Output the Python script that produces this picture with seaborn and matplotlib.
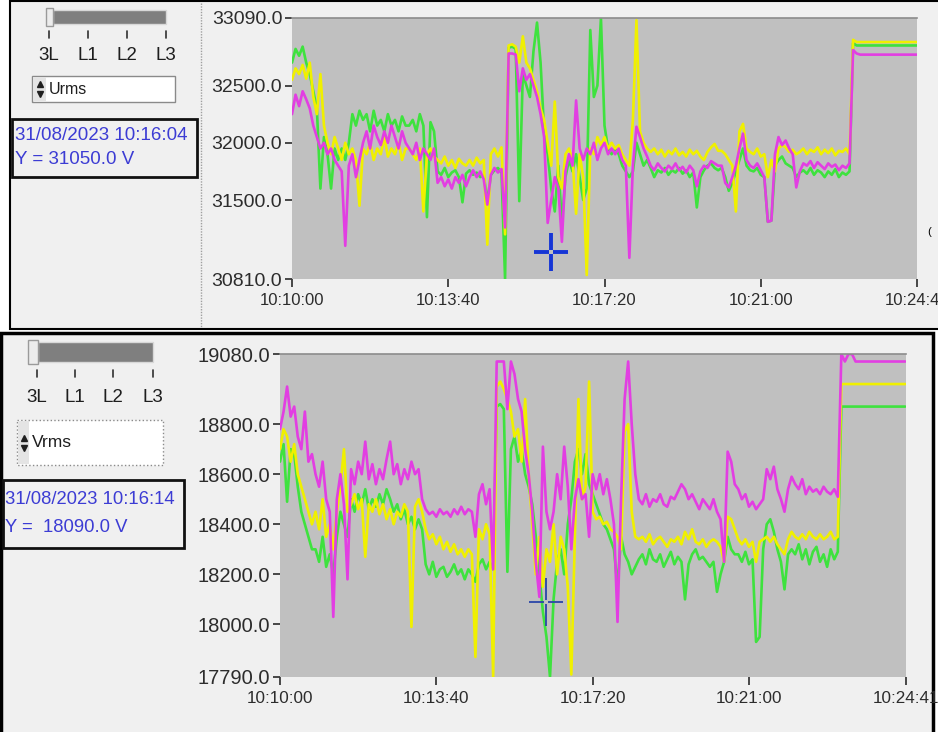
import numpy as np
import pandas as pd
import matplotlib
matplotlib.use("Agg")
import matplotlib.pyplot as plt
from matplotlib.patches import Rectangle
import seaborn as sns

# ---------------- data (5 s samples from 10:10:00) ----------------
T = np.arange(0, 885, 5)

TOP_G = [
    32700, 32820, 32760, 32840, 32700, 32600, 32450, 32300, 31600, 32050,
    31900, 31600, 31950, 31850, 31950, 31850, 32000, 32250, 32150, 32280,
    32200, 32250, 32100, 32280, 32150, 32200, 32100, 32250, 32150, 32200,
    32100, 32230, 32150, 32150, 32200, 32100, 32250, 32150, 31350, 32180,
    32100, 31750, 31720, 31780, 31700, 31740, 31760, 31700, 31480, 31730,
    31760, 31720, 31740, 31700, 31720, 31480, 31720, 31760, 31780, 31740,
    30810, 32830, 32840, 32820, 31490, 32600, 32500, 32400, 32800, 33050,
    32700, 32100, 31900, 31600, 31400, 31800, 31300, 31700, 31850, 31750,
    31900, 31700, 31500, 31600, 32985, 32400, 32500, 33090, 32150, 31950,
    31900, 31950, 31900, 31800, 31750, 31700, 31750, 32000, 31900, 31800,
    31850, 31780, 31700, 31760, 31740, 31780, 31720, 31760, 31740, 31780,
    31730, 31760, 31700, 31740, 31435, 31700, 31760, 31800, 31820, 31780,
    31760, 31780, 31700, 31580, 31650, 31750, 31850, 31950, 31800, 31760,
    31750, 31780, 31720, 31700, 31310, 31320, 31800, 31850, 31880, 31820,
    31800, 31780, 31700, 31740, 31760, 31730, 31780, 31720, 31760, 31740,
    31700, 31750, 31720, 31770, 31700, 31740, 31720, 31750, 32870, 32850,
    32850, 32850, 32850, 32850, 32850, 32850, 32850, 32850, 32850, 32850,
    32850, 32850, 32850, 32850, 32850, 32850, 32850,
]
TOP_Y = [
    32550, 32650, 32600, 32680, 32560, 32700, 32400, 32250, 32600, 32150,
    32000, 31900, 32050, 31950, 31850, 32000, 31900, 31950, 31850, 31450,
    31950, 31900, 32000, 31850, 31950, 31900, 32050, 31880, 31950, 31900,
    32000, 31850, 31950, 31950, 31900, 31850, 31950, 31400, 31900, 31950,
    31880, 31850, 31820, 31880, 31800, 31850, 31780, 31860, 31820, 31800,
    31850, 31800, 31870, 31820, 31850, 31110, 31900, 31950, 31880, 31960,
    31200, 32850, 32860, 32840, 32700, 32930, 32700, 32650, 32550, 32450,
    32300, 32200, 32000, 31800, 32360, 31700, 31600, 31900, 31950, 31850,
    31380, 31900, 31700, 30845, 31950, 31900, 32050, 31980, 32050, 31950,
    32000, 31950, 31980, 31900, 31850, 31800, 32200, 33070, 32100, 32000,
    31950, 31920, 31950, 31900, 31940, 31880, 31930, 31900, 31950, 31890,
    31920, 31880, 31940, 31900, 31930, 31880, 31850, 31920, 31960, 31990,
    31930, 31930, 31900, 31850, 31800, 31400, 32100, 32165, 31950, 31920,
    31900, 31950, 31880, 31900, 31700, 31850, 31750, 31950, 31980, 31960,
    31920, 31940, 31900, 31920, 31950, 31900, 31940, 31920, 31960, 31900,
    31940, 31910, 31950, 31890, 31930, 31920, 31950, 31900, 32900, 32880,
    32880, 32880, 32880, 32880, 32880, 32880, 32880, 32880, 32880, 32880,
    32880, 32880, 32880, 32880, 32880, 32880, 32880,
]
TOP_M = [
    32250, 32420, 32320, 32450, 32380, 32300, 32150, 32050, 31950, 32000,
    31900, 31950, 31850, 31800, 31750, 31100, 31800, 31900, 31700, 31850,
    32000, 32100, 31950, 32150, 32050, 31980, 32100, 32000, 32150, 32050,
    31950, 32100, 32000, 31950, 31900, 32000, 31850, 31950, 31900, 31850,
    31950, 31650, 31700, 31620, 31680, 31600, 31700, 31650, 31720, 31620,
    31700, 31760, 31700, 31750, 31680, 31460, 31720, 31780, 31740, 31770,
    31260, 32780, 32780, 32770, 32450, 32650, 32550, 32600, 32500, 32400,
    32250, 32050, 31300, 31500, 31700, 31600, 31135, 31750, 31900, 31800,
    32370, 31950, 31850, 31950, 31900, 32000, 31850, 31950, 32000, 31900,
    31950, 31900, 31950, 31850, 31800, 30995, 31800, 32140, 32050, 31950,
    31880, 31800, 31760, 31820, 31780, 31750, 31800, 31770, 31820, 31760,
    31790, 31740, 31800, 31760, 31620, 31750, 31800, 31780, 31840, 31820,
    31800, 31800, 31650, 31610, 31700, 31800, 31950, 32080, 31850, 31800,
    31780, 31820, 31760, 31700, 31310, 31320, 31900, 32050, 31980, 32020,
    31950, 31900, 31610, 31750, 31820, 31800, 31840, 31780, 31830, 31800,
    31770, 31820, 31790, 31810, 31760, 31800, 31780, 31820, 32810, 32780,
    32770, 32770, 32770, 32770, 32770, 32770, 32770, 32770, 32770, 32770,
    32770, 32770, 32770, 32770, 32770, 32770, 32770,
]

BOT_G = [
    18650, 18720, 18490, 18700, 18680, 18550, 18450, 18400, 18350, 18300,
    18300, 18250, 18350, 18230, 18280, 18200, 18350, 18450, 18400, 18350,
    18500, 18450, 18520, 18480, 18540, 18460, 18500, 18470, 18520, 18480,
    18540, 18500, 18450, 18480, 18420, 18460, 18400, 18430, 18380, 18420,
    18380, 18240, 18200, 18250, 18190, 18220, 18230, 18190, 18210, 18240,
    18200, 18220, 18180, 18220, 18200, 18170, 18240, 18260, 18220, 18250,
    18220, 18870, 18880, 18860, 18210, 18700, 18750, 18650, 18700, 18600,
    18550, 18480, 18350, 18200, 18050, 17950, 17790, 18100, 18250, 18300,
    18200, 18400, 18500, 18650, 18700, 18600, 18680, 18560, 18520, 18480,
    18440, 18400, 18380, 18340, 18300, 18150, 18350, 18280, 18250, 18200,
    18230, 18260, 18280, 18240, 18300, 18260, 18250, 18280, 18230, 18260,
    18290, 18240, 18270, 18250, 18100, 18240, 18280, 18300, 18260, 18270,
    18250, 18230, 18250, 18130, 18200, 18250, 18350, 18300, 18280, 18280,
    18250, 18290, 18240, 18260, 17930, 17950, 18300, 18400, 18420, 18370,
    18300, 18250, 18140, 18280, 18300, 18280, 18320, 18260, 18300, 18240,
    18290, 18310, 18250, 18280, 18230, 18300, 18260, 18290, 18870, 18870,
    18870, 18870, 18870, 18870, 18870, 18870, 18870, 18870, 18870, 18870,
    18870, 18870, 18870, 18870, 18870, 18870, 18870,
]
BOT_Y = [
    18700, 18780, 18750, 18650, 18720, 18600, 18550, 18500, 18450, 18400,
    18450, 18380, 18500, 18350, 18400, 18300, 18450, 18550, 18700, 18450,
    18480, 18520, 18460, 18500, 18270, 18480, 18450, 18500, 18440, 18480,
    18420, 18460, 18400, 18450, 18430, 18480, 18450, 17990, 18470, 18500,
    18450, 18380, 18340, 18360, 18320, 18350, 18300, 18330, 18290, 18320,
    18280, 18300, 18270, 18300, 18280, 17870, 18380, 18340, 18400, 18360,
    17790, 18950, 18970, 18940, 18900, 18850, 18750, 18780, 18650, 18900,
    18600, 18400, 18200, 18350, 18150, 18300, 18250, 18400, 18200, 18350,
    18300, 18150, 17800, 18350, 18900, 18500, 18550, 18970, 18450, 18420,
    18430, 18400, 18410, 18380, 18370, 18350, 18300, 18770, 18800, 18450,
    18350, 18340, 18350, 18330, 18360, 18320, 18340, 18350, 18330, 18310,
    18340, 18330, 18350, 18320, 18370, 18340, 18380, 18330, 18320, 18340,
    18310, 18330, 18340, 18330, 18310, 18250, 18430, 18420, 18380, 18340,
    18320, 18340, 18310, 18330, 18250, 18330, 18340, 18350, 18330, 18350,
    18320, 18300, 18280, 18340, 18370, 18350, 18340, 18360, 18340, 18370,
    18350, 18340, 18360, 18340, 18350, 18370, 18340, 18350, 18960, 18960,
    18960, 18960, 18960, 18960, 18960, 18960, 18960, 18960, 18960, 18960,
    18960, 18960, 18960, 18960, 18960, 18960, 18960,
]
BOT_M = [
    18780, 18850, 18950, 18830, 18870, 18750, 18700, 18850, 18650, 18680,
    18600, 18550, 18650, 18500, 18450, 18030, 18500, 18600, 18480, 18180,
    18620, 18560, 18650, 18600, 18730, 18580, 18640, 18560, 18620, 18580,
    18660, 18730, 18600, 18640, 18560, 18620, 18580, 18650, 18600, 18620,
    18500, 18460, 18440, 18450, 18430, 18460, 18440, 18450, 18430, 18460,
    18440, 18470, 18440, 18460, 18450, 18350, 18520, 18560, 18480, 18540,
    18220, 19050, 19050, 19050, 18860, 19050, 19000, 18900, 18850, 18700,
    18600, 18450, 18250, 18110, 18710, 18450, 18380, 18450, 18600, 18500,
    18710, 18550, 18300, 18500, 18580, 18500, 18520, 18350, 18600, 18540,
    18600, 18520, 18580, 18500, 18400, 18010, 18500, 18900, 19050, 18800,
    18600, 18500, 18480, 18520, 18470, 18500, 18490, 18520, 18480, 18470,
    18510, 18500, 18530, 18560, 18540, 18500, 18520, 18490, 18460, 18500,
    18480, 18460, 18500, 18450, 18420, 18250, 18690, 18650, 18560, 18540,
    18500, 18520, 18470, 18490, 18460, 18480, 18500, 18620, 18580, 18630,
    18540, 18500, 18450, 18540, 18590, 18560, 18540, 18580, 18520, 18550,
    18530, 18540, 18520, 18550, 18530, 18520, 18540, 18510, 19080, 19050,
    19080, 19080, 19050, 19050, 19050, 19050, 19050, 19050, 19050, 19050,
    19050, 19050, 19050, 19050, 19050, 19050, 19050,
]
for s in (TOP_G, TOP_Y, TOP_M, BOT_G, BOT_Y, BOT_M):
    assert len(s) == len(T), len(s)

PHASES = ["L1", "L2", "L3"]
PALETTE = {"L1": "#3ee23e", "L2": "#f0f000", "L3": "#e23ee2"}

TOP_YTICKS = [30810, 31500, 32000, 32500, 33090]
BOT_YTICKS = [17790, 18000, 18200, 18400, 18600, 18800, 19080]
TOP_XTICKS = [0, 220, 440, 660, 880]
TOP_XLABELS = ["10:10:00", "10:13:40", "10:17:20", "10:21:00", "10:24:40"]
BOT_XTICKS = [0, 220, 440, 660, 881]
BOT_XLABELS = ["10:10:00", "10:13:40", "10:17:20", "10:21:00", "10:24:41"]

TOP_CURSOR = (364, 31050)   # 10:16:04
BOT_CURSOR = (374, 18090)   # 10:16:14
TOP_CURSOR_TEXT = ["31/08/2023 10:16:04", "Y = 31050.0 V"]
BOT_CURSOR_TEXT = ["31/08/2023 10:16:14", "Y =  18090.0 V"]
SLIDER_LABELS = ["3L", "L1", "L2", "L3"]

# ---------------- figure ----------------
sns.set_theme(style="white")
plt.rcParams["font.family"] = ["Liberation Sans", "DejaVu Sans"]

W, H = 938, 732
fig = plt.figure(figsize=(W / 100, H / 100), dpi=100, facecolor="white")


def pax(x0, y0, x1, y1):
    return [x0 / W, 1 - y1 / H, (x1 - x0) / W, (y1 - y0) / H]


bg = fig.add_axes([0, 0, 1, 1])
bg.set_xlim(0, W)
bg.set_ylim(H, 0)
bg.axis("off")
bg.set_zorder(0)

PANEL = "#f0f0f0"
BLUE = "#3c3cd4"

# panel frames
bg.add_patch(Rectangle((10, 1), 940, 328, facecolor=PANEL, edgecolor="black", lw=1.5))
bg.plot([201, 201], [3, 327], color="#a0a0a0", lw=1, ls=(0, (1, 1)))
bg.add_patch(Rectangle((1, 333), 932, 410, facecolor=PANEL, edgecolor="black", lw=2.5))


def controls(sl_x0, sl_x1, sl_y0, sl_y1, h_x0, h_x1, tick_xs, tick_y, lab_y,
             box, spin_w, sel_text, sel_fs, sel_ls, cbox, ctext, ctx, cty, cfs):
    bg.add_patch(Rectangle((sl_x0, sl_y0), sl_x1 - sl_x0, sl_y1 - sl_y0,
                           facecolor="#7f7f7f", edgecolor="#d8d8d8", lw=1))
    bg.add_patch(Rectangle((h_x0, sl_y0 - 2), h_x1 - h_x0, sl_y1 - sl_y0 + 4,
                           facecolor="#ececec", edgecolor="#9a9a9a", lw=1))
    for x, lab in zip(tick_xs, SLIDER_LABELS):
        bg.plot([x, x], [tick_y, tick_y + 7], color="#303030", lw=1.2)
        bg.text(x, lab_y, lab, ha="center", va="center", fontsize=13.5,
                color="#1e1e1e")
    bx, by, bw, bh = box
    bg.add_patch(Rectangle((bx, by), bw, bh, facecolor="white",
                           edgecolor="#8a8a8a", lw=1, ls=sel_ls))
    bg.add_patch(Rectangle((bx + 1, by + 1), spin_w, bh - 2, facecolor="#e4e4e4",
                           edgecolor="none"))
    sx = bx + 1 + spin_w / 2
    bg.plot([sx], [by + bh / 2 - 5], marker="^", ms=5, color="#202020")
    bg.plot([sx], [by + bh / 2 + 5], marker="v", ms=5, color="#202020")
    bg.text(bx + spin_w + 4, by + bh / 2, sel_text, ha="left", va="center",
            fontsize=sel_fs, color="#1e1e1e")
    cx, cy, cw, ch = cbox
    bg.add_patch(Rectangle((cx, cy), cw, ch, facecolor=PANEL, edgecolor="#111111",
                           lw=2))
    for t, yy in zip(ctext, cty):
        bg.text(ctx, yy, t, ha="left", va="center", fontsize=cfs, color=BLUE)


controls(53, 166, 10, 24, 46, 53, [49, 88, 127, 166], 31, 56,
         (32, 76, 143, 26), 13, "Urms", 11.5, "-",
         (12, 119, 185, 58), TOP_CURSOR_TEXT, 15, [136, 160], 13.5)
controls(38, 153, 342, 362, 28, 38, [37, 75, 113, 153], 370, 398,
         (17, 420, 146, 45), 11, "Vrms", 12.5, ":",
         (3, 480, 181, 68), BOT_CURSOR_TEXT, 5, [500, 528], 13.3)

# panel tags
bg.text(867, 248, "(a)", ha="center", va="center", fontsize=16,
        family=["Open Sans", "DejaVu Sans"], color="black")
bg.text(839, 627, "(b)", ha="center", va="center", fontsize=16,
        family=["Open Sans", "DejaVu Sans"], color="black")
bg.text(929, 232, "(", ha="center", va="center", fontsize=8, color="black")
bg.text(901, 609, "(", ha="center", va="center", fontsize=8, color="black")


def long_df(g, y, m):
    return pd.DataFrame({
        "t": np.tile(T, 3),
        "v": np.concatenate([g, y, m]),
        "phase": np.repeat(PHASES, len(T)),
    })


def chart(rect, series, ylim, yticks, xlim, xticks, xlabels, cursor, cursor_style,
          yfs, xfs):
    ax = fig.add_axes(rect)
    ax.set_zorder(1)
    ax.set_facecolor("#c0c0c0")
    sns.lineplot(data=long_df(*series), x="t", y="v", hue="phase",
                 hue_order=PHASES, palette=PALETTE, estimator=None, sort=False,
                 legend=False, linewidth=1.9, ax=ax)
    ax.set_xlim(*xlim)
    ax.set_ylim(*ylim)
    ax.set_yticks(yticks)
    ax.set_yticklabels([f"{v:.1f}" for v in yticks], fontsize=yfs,
                       color="#2c2c2c")
    ax.set_xticks(xticks)
    ax.set_xticklabels(xlabels, fontsize=xfs, color="#2c2c2c")
    ax.set_xlabel("")
    ax.set_ylabel("")
    ax.tick_params(axis="y", direction="out", length=5, width=1.3,
                   color="#3a3a3a", pad=2, left=True)
    ax.tick_params(axis="x", direction="out", length=6, width=1.3,
                   color="#3a3a3a", pad=4, bottom=True)
    for side in ("left", "right", "bottom"):
        ax.spines[side].set_visible(False)
    ax.spines["top"].set_color("#8c8c8c")
    ax.spines["top"].set_linewidth(1.2)
    cx, cy = cursor
    hlen, vlen, lw, col = cursor_style
    ax.plot([cx], [cy], marker="_", ms=hlen, mew=lw, color=col, zorder=5)
    ax.plot([cx], [cy], marker="|", ms=vlen, mew=lw, color=col, zorder=5)
    ax.plot([cx], [cy], marker="s", ms=2.2, mew=0, color="#c0c0c0", zorder=6)
    return ax


chart(pax(292, 18, 917, 279), (TOP_G, TOP_Y, TOP_M), (30810, 33090), TOP_YTICKS,
      (0, 880), TOP_XTICKS, TOP_XLABELS, TOP_CURSOR,
      (24, 27, 2.8, "#1636d6"), 14, 12)
chart(pax(280, 354, 906, 677), (BOT_G, BOT_Y, BOT_M), (17790, 19080), BOT_YTICKS,
      (0, 881), BOT_XTICKS, BOT_XLABELS, BOT_CURSOR,
      (24, 34, 1.3, "#2a46a8"), 14.5, 12.3)

fig.savefig("out.png", dpi=100, facecolor="white")
